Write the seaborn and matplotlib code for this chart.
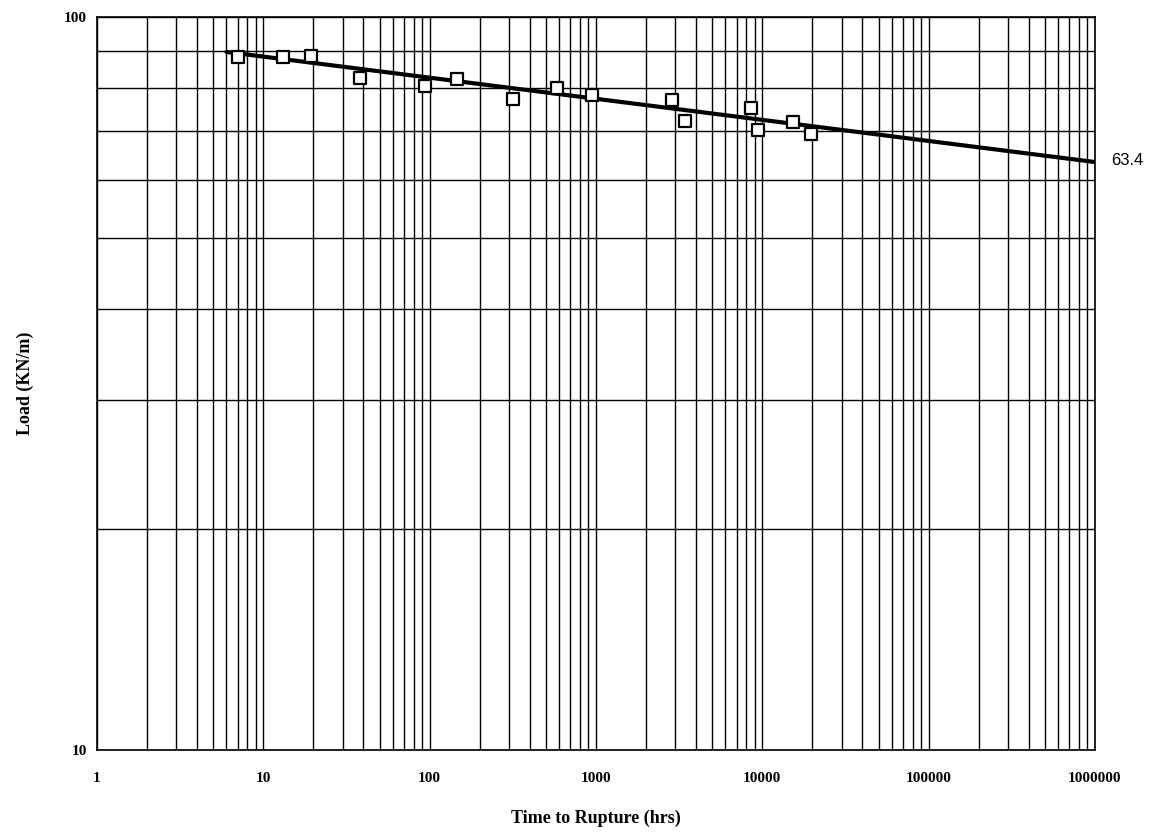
import matplotlib
matplotlib.use("Agg")
import matplotlib.pyplot as plt
from matplotlib.ticker import LogLocator, NullFormatter, FixedLocator, FixedFormatter
import pandas as pd
import seaborn as sns

# rupture test points (hrs, KN/m)
time_hrs = [7.0, 13.1, 19.4, 38, 94, 146, 318, 584, 948, 2870, 3435, 8560, 9440, 15300, 19600]
load_kn = [88.2, 88.2, 88.4, 82.6, 80.5, 82.3, 77.3, 80.0, 78.3, 77.1, 72.1, 75.1, 70.1, 71.9, 69.2]

# regression line end points
fit_time = [6.0, 1000000]
fit_load = [89.6, 63.4]
fit_label = "63.4"

x_ticks = [1, 10, 100, 1000, 10000, 100000, 1000000]
x_labels = ["1", "10", "100", "1000", "10000", "100000", "1000000"]
y_ticks = [10, 100]
y_labels = ["10", "100"]

pts = pd.DataFrame({"time": time_hrs, "load": load_kn})
fit = pd.DataFrame({"time": fit_time, "load": fit_load})

sns.set_style("white")
plt.rcParams['font.family'] = ['Liberation Serif', 'DejaVu Serif']
plt.rcParams['text.color'] = 'black'
plt.rcParams['axes.labelcolor'] = 'black'
plt.rcParams['xtick.color'] = 'black'
plt.rcParams['ytick.color'] = 'black'

fig = plt.figure(figsize=(11.51, 8.32), dpi=100)
ax = fig.add_axes([0.0843, 0.0986, 0.8670, 0.8810])

ax.set_xscale("log")
ax.set_yscale("log")
ax.set_xlim(1, 1000000)
ax.set_ylim(10, 100)

# grid: every minor decade line, black
ax.xaxis.set_minor_locator(LogLocator(base=10, subs=range(2, 10), numticks=20))
ax.yaxis.set_minor_locator(LogLocator(base=10, subs=range(2, 10), numticks=20))
ax.grid(True, which="both", color="black", linewidth=1.0)
ax.set_axisbelow(True)

sns.lineplot(data=fit, x="time", y="load", ax=ax, color="black", linewidth=3.0)
sns.scatterplot(data=pts, x="time", y="load", ax=ax, marker="s", s=70,
                facecolor="white", edgecolor="black", linewidth=1.6, zorder=5)

ax.text(1.25e6, fit_load[-1] * 1.005, fit_label, family="Liberation Sans", fontsize=12,
        va="center", ha="left", color="black")

ax.xaxis.set_major_locator(FixedLocator(x_ticks))
ax.xaxis.set_major_formatter(FixedFormatter(x_labels))
ax.xaxis.set_minor_formatter(NullFormatter())
ax.yaxis.set_major_locator(FixedLocator(y_ticks))
ax.yaxis.set_major_formatter(FixedFormatter(y_labels))
ax.yaxis.set_minor_formatter(NullFormatter())
ax.tick_params(axis="both", which="major", labelsize=11, length=4, width=1)
ax.tick_params(axis="x", which="major", pad=12)
ax.tick_params(axis="both", which="minor", length=0)
for lab in ax.get_xticklabels() + ax.get_yticklabels():
    lab.set_fontweight("bold")

ax.set_xlabel("Time to Rupture (hrs)", fontsize=13, fontweight="bold", labelpad=18)
ax.set_ylabel("Load (KN/m)", fontsize=13, fontweight="bold", labelpad=21)

for sp in ax.spines.values():
    sp.set_color("black")
    sp.set_linewidth(1.2)

fig.savefig("out.png", dpi=100)
